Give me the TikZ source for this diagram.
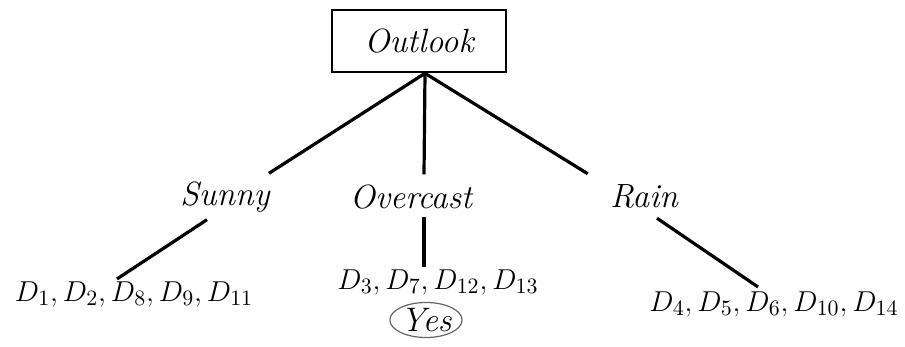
\documentclass[tikz,border=0pt]{standalone}
\usetikzlibrary{shapes.geometric,calc}
\begin{document}
\begin{tikzpicture}[x=0.5pt,y=-0.5pt,
  lbl/.style={font=\fontsize{16.8}{20}\selectfont\itshape, inner sep=0pt},
  dset/.style={font=\fontsize{15.5}{18}\selectfont, inner sep=0pt},
  edge/.style={line width=1.6pt},
  rootbox/.style={draw, line width=1.3pt, minimum width=87pt, minimum height=31pt, inner sep=0pt,
    font=\fontsize{16.8}{20}\selectfont\itshape},
  leafmark/.style={ellipse, draw=black!60, line width=0.6pt, minimum width=34pt, minimum height=17.5pt,
    inner sep=0pt, font=\fontsize{17}{20}\selectfont\itshape}]
\useasboundingbox (0,0) rectangle (905,347);
\node[rootbox] (outlook) at (419,41) {Outlook};
\coordinate (root) at ($(outlook.south)+(6,0)$);
\node[lbl] (sunny) at (225,197) {Sunny};
\node[lbl] (overcast) at (411,197) {Overcast};
\node[lbl] (rain) at (644,196) {Rain};
\node[dset] (ds) at (134,294) {$D_1, D_2, D_8, D_9, D_{11}$};
\node[dset] (do) at (438,282) {$D_3, D_7, D_{12}, D_{13}$};
\node[dset] (dr) at (774,304) {$D_4, D_5, D_6, D_{10}, D_{14}$};
\node[leafmark] (yes) at (426,320) {Yes};
\draw[edge] (root) -- ($(sunny.north east)+(-1,-8)$);
\draw[edge] (root) -- ($(overcast.north)+(13,-10)$);
\draw[edge] (root) -- ($(rain.north west)+(-22,-10)$);
\draw[edge] ($(sunny.south)+(-18,7)$) -- ($(ds.north)+(-17,-2)$);
\draw[edge] ($(overcast.south)+(13,7)$) -- ($(do.north)+(-14,-2)$);
\draw[edge] ($(rain.south)+(13,10)$) -- ($(dr.north)+(-16,-4)$);
\end{tikzpicture}
\end{document}
